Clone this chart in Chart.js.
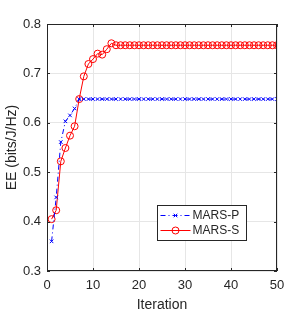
<!DOCTYPE html>
<html>
<head>
<meta charset="utf-8">
<script src="https://cdn.jsdelivr.net/npm/chart.js@4/dist/chart.umd.min.js"></script>
<style>
  html, body { margin: 0; padding: 0; background: #fff; }
  #wrap { width: 305px; height: 314px; }
</style>
</head>
<body>
<div id="wrap"><canvas id="c" width="305" height="314"></canvas></div>
<script>
const iterations = [1,2,3,4,5,6,7,8,9,10,11,12,13,14,15,16,17,18,19,20,21,22,23,24,25,
  26,27,28,29,30,31,32,33,34,35,36,37,38,39,40,41,42,43,44,45,46,47,48,49,50];

const marsP = [0.360,0.449,0.561,0.603,0.615,0.629,0.648,0.648,0.648,0.648,
  0.648,0.648,0.648,0.648,0.648,0.648,0.648,0.648,0.648,0.648,
  0.648,0.648,0.648,0.648,0.648,0.648,0.648,0.648,0.648,0.648,
  0.648,0.648,0.648,0.648,0.648,0.648,0.648,0.648,0.648,0.648,
  0.648,0.648,0.648,0.648,0.648,0.648,0.648,0.648,0.648,0.648];

const marsS = [0.405,0.423,0.522,0.549,0.574,0.593,0.648,0.694,0.719,0.729,
  0.740,0.738,0.749,0.761,0.757,0.757,0.757,0.757,0.757,0.757,
  0.757,0.757,0.757,0.757,0.757,0.757,0.757,0.757,0.757,0.757,
  0.757,0.757,0.757,0.757,0.757,0.757,0.757,0.757,0.757,0.757,
  0.757,0.757,0.757,0.757,0.757,0.757,0.757,0.757,0.757,0.757];

const xTicks = [0, 10, 20, 30, 40, 50];
const yTicks = [0.3, 0.4, 0.5, 0.6, 0.7, 0.8];
const seriesNames = ["MARS-P", "MARS-S"];

const FONT = "Liberation Sans, Arial, Helvetica, sans-serif";
const AXIS = "#262626";

const toPts = (ys) => iterations.map((x, i) => ({ x, y: ys[i] }));

// box, inward ticks and in-plot legend, MATLAB style
const matlabFrame = {
  id: "matlabFrame",
  afterDatasetsDraw(chart) {
    const { ctx, chartArea: a, scales } = chart;
    ctx.save();
    ctx.strokeStyle = AXIS;
    ctx.lineWidth = 1;
    ctx.strokeRect(a.left + 0.5, a.top + 0.5, a.right - a.left - 1, a.bottom - a.top - 1);
    ctx.beginPath();
    for (const t of xTicks) {
      const px = Math.round(scales.x.getPixelForValue(t)) + 0.5;
      ctx.moveTo(px, a.bottom); ctx.lineTo(px, a.bottom - 3);
      ctx.moveTo(px, a.top); ctx.lineTo(px, a.top + 3);
    }
    for (const t of yTicks) {
      const py = Math.round(scales.y.getPixelForValue(t)) + 0.5;
      ctx.moveTo(a.left, py); ctx.lineTo(a.left + 3, py);
      ctx.moveTo(a.right, py); ctx.lineTo(a.right - 3, py);
    }
    ctx.stroke();

    // legend box
    const bx = 157.5, by = 205.5, bw = 89, bh = 35;
    ctx.fillStyle = "#fff";
    ctx.fillRect(bx, by, bw, bh);
    ctx.strokeStyle = AXIS;
    ctx.strokeRect(bx, by, bw, bh);
    ctx.font = "12px " + FONT;
    ctx.textBaseline = "middle";
    chart.data.datasets.forEach((ds, i) => {
      const yy = by + 10 + i * 15;
      ctx.strokeStyle = ds.borderColor;
      ctx.lineWidth = 1;
      ctx.setLineDash(ds.borderDash || []);
      ctx.beginPath(); ctx.moveTo(bx + 3, yy); ctx.lineTo(bx + 33, yy); ctx.stroke();
      ctx.setLineDash([]);
      ctx.fillStyle = "rgba(0,0,0,0)";
      ctx.strokeStyle = ds.borderColor;
      Chart.helpers.drawPoint(ctx, {
        pointStyle: ds.pointStyle, radius: ds.pointRadius, borderWidth: 1
      }, bx + 18, yy);
      ctx.fillStyle = "#262626";
      ctx.fillText(seriesNames[i], bx + 35, yy + 0.5);
    });
    ctx.restore();
  }
};

new Chart(document.getElementById("c"), {
  type: "line",
  data: {
    datasets: [
      {
        label: seriesNames[0], data: toPts(marsP),
        borderColor: "#0000ff", backgroundColor: "transparent",
        borderWidth: 1, borderDash: [5, 3, 1, 3],
        pointStyle: "crossRot", pointRadius: 2.5, pointBorderWidth: 1,
        pointBorderColor: "#0000ff"
      },
      {
        label: seriesNames[1], data: toPts(marsS),
        borderColor: "#ff0000", backgroundColor: "transparent",
        borderWidth: 1,
        pointStyle: "circle", pointRadius: 3.5, pointBorderWidth: 1,
        pointBorderColor: "#ff0000", pointBackgroundColor: "transparent"
      }
    ]
  },
  options: {
    responsive: false, animation: false,
    layout: { padding: { top: 24, right: 28, left: 0, bottom: 0 } },
    plugins: { legend: { display: false }, tooltip: { enabled: false } },
    scales: {
      x: {
        type: "linear", min: 0, max: 50,
        afterBuildTicks: (s) => { s.ticks = xTicks.map(v => ({ value: v })); },
        afterFit: (s) => { s.height = 43; },
        grid: { color: "#e6e6e6", drawTicks: false },
        border: { display: false },
        ticks: { color: "#262626", padding: 7, font: { family: FONT, size: 13 } },
        title: { display: true, text: "Iteration", color: "#262626", padding: { top: 0, bottom: 0 },
                 font: { family: FONT, size: 14 } }
      },
      y: {
        min: 0.3, max: 0.8,
        afterBuildTicks: (s) => { s.ticks = yTicks.map(v => ({ value: v })); },
        afterFit: (s) => { s.width = 47; },
        grid: { color: "#e6e6e6", drawTicks: false },
        border: { display: false },
        ticks: { color: "#262626", padding: 6, font: { family: FONT, size: 13 },
                 callback: (v) => v.toFixed(1) },
        title: { display: true, text: "EE (bits/J/Hz)", color: "#262626",
                 font: { family: FONT, size: 14 } }
      }
    }
  },
  plugins: [matlabFrame]
});
</script>
</body>
</html>
